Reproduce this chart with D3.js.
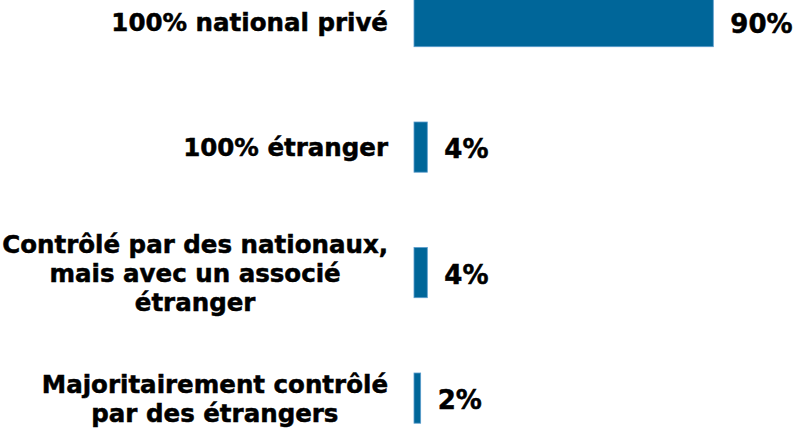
<!DOCTYPE html>
<html><head><meta charset="utf-8">
<script src="https://cdn.jsdelivr.net/npm/d3@7"></script>
<style>body{margin:0;background:#fff}svg{display:block}</style>
</head><body>
<script>
const categories = [
  ["100% national privé"],
  ["100% étranger"],
  ["Contrôlé par des nationaux,", "mais avec un associé", "étranger"],
  ["Majoritairement contrôlé", "par des étrangers"]
];
const values = [90, 4, 4, 2];
const valueLabels = ["90%", "4%", "4%", "2%"];

const W = 811, H = 429;
const svg = d3.select("body").append("svg").attr("width", W).attr("height", H);
const font = "'DejaVu Sans', Verdana, sans-serif";

const ids = categories.map((c, i) => i);
const step = 125.5;
const y = d3.scaleBand().domain(ids).range([-3.5 - 0.3 * step, -3.5 - 0.3 * step + 4 * step])
  .paddingInner(0.6).paddingOuter(0.3);
const x = d3.scaleLinear().domain([0, 90]).range([414, 713.3]);

svg.selectAll("rect.bar").data(ids).join("rect")
  .attr("class", "bar")
  .attr("x", x(0))
  .attr("y", i => y(i))
  .attr("width", i => x(values[i]) - x(0))
  .attr("height", y.bandwidth())
  .attr("fill", "#006699")
  .attr("stroke", "#5a9ccc")
  .attr("stroke-width", 0.8);

svg.selectAll("text.val").data(ids).join("text")
  .attr("class", "val")
  .attr("x", i => x(values[i]) + 17)
  .attr("y", i => y(i) + y.bandwidth() / 2)
  .attr("dy", "0.42em")
  .attr("font-family", font).attr("font-weight", "bold").attr("font-size", 26)
  .attr("fill", "#000").attr("stroke", "#000").attr("stroke-width", 0.5)
  .text(i => valueLabels[i]);

const lh = 29, blockRight = 388, fs = 24.5;
ids.forEach(i => {
  const lines = categories[i];
  const g = svg.append("g");
  const cy = y(i) + y.bandwidth() / 2;
  const ts = lines.map((l, k) => g.append("text")
    .attr("font-family", font).attr("font-weight", "bold").attr("font-size", fs)
    .attr("fill", "#000").attr("stroke", "#000").attr("stroke-width", 0.5)
    .attr("text-anchor", "middle")
    .attr("y", cy + (k - (lines.length - 1) / 2) * lh)
    .attr("dy", "0.37em")
    .text(l));
  const maxW = d3.max(ts, t => t.node().getComputedTextLength());
  ts.forEach(t => t.attr("x", blockRight - maxW / 2));
});
</script>
</body></html>
